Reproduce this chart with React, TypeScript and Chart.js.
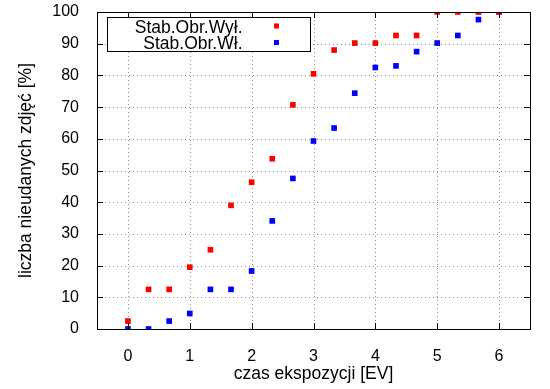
import React, { useEffect, useRef } from "react";
import { Chart, registerables } from "chart.js";

Chart.register(...registerables);

const xValues = [0, 1 / 3, 2 / 3, 1, 4 / 3, 5 / 3, 2, 7 / 3, 8 / 3, 3, 10 / 3, 11 / 3, 4, 13 / 3, 14 / 3, 5, 16 / 3, 17 / 3, 6];
const seriesWyl = [2.5, 12.5, 12.5, 19.5, 25, 39, 46.3, 53.7, 70.7, 80.5, 88, 90.2, 90.2, 92.6, 92.6, 100, 100, 100, 100];
const seriesWl = [0, 0, 2.5, 4.9, 12.5, 12.5, 18.3, 34.1, 47.5, 59.3, 63.4, 74.4, 82.5, 83, 87.5, 90.2, 92.6, 97.6, 100];
const seriesLabels = ["Stab.Obr.Wył.", "Stab.Obr.Wł."];
const xTicks = [0, 1, 2, 3, 4, 5, 6];
const yTicks = [0, 10, 20, 30, 40, 50, 60, 70, 80, 90, 100];
const xTitle = "czas ekspozycji [EV]";
const yTitle = "liczba nieudanych zdjęć [%]";

const FONT = "'Liberation Sans', Arial, sans-serif";

const gridPlugin = {
  id: "dotgrid",
  beforeDatasetsDraw(chart: any) {
    const { ctx, chartArea } = chart;
    const { left, right, top, bottom } = chartArea;
    const xs = chart.scales.x;
    const ys = chart.scales.y;
    ctx.save();
    ctx.strokeStyle = "#8c8c8c";
    ctx.lineWidth = 1;
    ctx.setLineDash([1, 3]);
    ctx.beginPath();
    for (const t of xTicks) {
      const px = Math.round(xs.getPixelForValue(t)) + 0.5;
      ctx.moveTo(px, bottom);
      ctx.lineTo(px, top);
    }
    for (const t of yTicks) {
      const py = Math.round(ys.getPixelForValue(t)) + 0.5;
      ctx.moveTo(left, py);
      ctx.lineTo(right, py);
    }
    ctx.stroke();
    ctx.restore();
  },
};

const framePlugin = {
  id: "frame",
  afterDatasetsDraw(chart: any) {
    const { ctx, chartArea } = chart;
    const { left, right, top, bottom } = chartArea;
    const xs = chart.scales.x;
    const ys = chart.scales.y;
    ctx.save();
    ctx.strokeStyle = "#000";
    ctx.lineWidth = 1;
    const L = 6;
    ctx.beginPath();
    for (const t of xTicks) {
      const px = Math.round(xs.getPixelForValue(t)) + 0.5;
      ctx.moveTo(px, bottom);
      ctx.lineTo(px, bottom - L);
      ctx.moveTo(px, top);
      ctx.lineTo(px, top + L);
    }
    for (const t of yTicks) {
      const py = Math.round(ys.getPixelForValue(t)) + 0.5;
      ctx.moveTo(left, py);
      ctx.lineTo(left + L, py);
      ctx.moveTo(right, py);
      ctx.lineTo(right - L, py);
    }
    ctx.stroke();
    ctx.strokeRect(Math.round(left) + 0.5, Math.round(top) + 0.5, Math.round(right - left), Math.round(bottom - top));

    // legend box
    const bx = Math.round(left) + 10.5;
    const by = Math.round(top) + 5.5;
    const bw = 203;
    const bh = 34;
    ctx.fillStyle = "#fff";
    ctx.fillRect(bx, by, bw, bh);
    ctx.strokeRect(bx, by, bw, bh);
    ctx.font = `17.5px ${FONT}`;
    ctx.textAlign = "right";
    ctx.textBaseline = "alphabetic";
    const colors = ["#ff0000", "#0000ff"];
    seriesLabels.forEach((lab, i) => {
      const base = by + 15 + i * 16.5;
      ctx.fillStyle = "#000";
      ctx.fillText(lab, bx + 135, base);
      ctx.fillStyle = colors[i];
      ctx.fillRect(bx + 169 - 2.5, base - 9, 5, 5);
    });

    // axis titles
    ctx.fillStyle = "#000";
    ctx.font = `17.5px ${FONT}`;
    ctx.textAlign = "center";
    ctx.textBaseline = "middle";
    ctx.fillText(xTitle, (left + right) / 2, 374);
    ctx.translate(26, (top + bottom) / 2);
    ctx.rotate(-Math.PI / 2);
    ctx.fillText(yTitle, 0, 0);
    ctx.restore();
  },
};

export default function App() {
  const ref = useRef<HTMLCanvasElement>(null);
  useEffect(() => {
    document.body.style.margin = "0";
    const chart = new Chart(ref.current!, {
      type: "scatter",
      data: {
        datasets: [
          {
            label: seriesLabels[0],
            data: xValues.map((x, i) => ({ x, y: seriesWyl[i] })),
            backgroundColor: "#ff0000",
            borderWidth: 0,
            pointStyle: "rect",
            pointRadius: 4,
          },
          {
            label: seriesLabels[1],
            data: xValues.map((x, i) => ({ x, y: seriesWl[i] })),
            backgroundColor: "#0000ff",
            borderWidth: 0,
            pointStyle: "rect",
            pointRadius: 4,
          },
        ],
      },
      plugins: [gridPlugin, framePlugin],
      options: {
        animation: false,
        responsive: false,
        events: [],
        layout: { autoPadding: false, padding: { left: 0, right: 20, top: 12, bottom: 0 } },
        plugins: { legend: { display: false }, tooltip: { enabled: false } },
        scales: {
          x: {
            type: "linear",
            min: -0.5,
            max: 6.5,
            afterBuildTicks: (s: any) => {
              s.ticks = xTicks.map((v) => ({ value: v }));
            },
            afterFit: (s: any) => {
              s.height = 60;
              s.paddingLeft = 0;
              s.paddingRight = 0;
            },
            grid: { display: false },
            border: { display: false },
            ticks: { color: "#000", font: { family: FONT, size: 16 }, padding: 10 },
          },
          y: {
            type: "linear",
            min: 0,
            max: 100,
            afterBuildTicks: (s: any) => {
              s.ticks = yTicks.map((v) => ({ value: v }));
            },
            afterFit: (s: any) => {
              s.width = 97;
              s.paddingTop = 0;
              s.paddingBottom = 0;
            },
            grid: { display: false },
            border: { display: false },
            ticks: { color: "#000", font: { family: FONT, size: 16 }, padding: 10 },
          },
        },
      },
    } as any);
    return () => chart.destroy();
  }, []);
  return <canvas ref={ref} width={550} height={389} style={{ display: "block", width: 550, height: 389 }} />;
}
